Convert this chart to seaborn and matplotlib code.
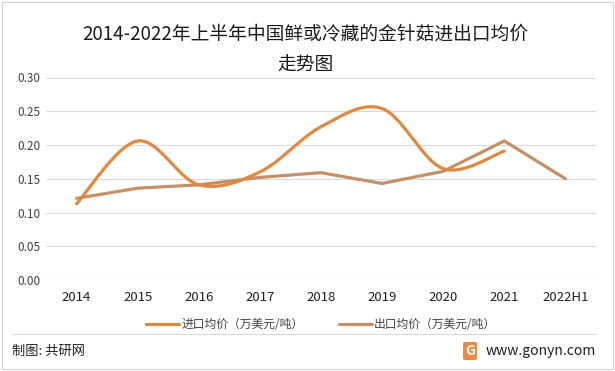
import matplotlib
matplotlib.use("Agg")
import matplotlib.pyplot as plt
import seaborn as sns
import numpy as np
import pandas as pd

years = ["2014", "2015", "2016", "2017", "2018", "2019", "2020", "2021", "2022H1"]
import_price = [0.113, 0.206, 0.141, 0.160, 0.227, 0.254, 0.165, 0.191]
export_price = [0.121, 0.136, 0.141, 0.152, 0.159, 0.143, 0.161, 0.206, 0.150]

import_name = "进口均价（万美元/吨）"
export_name = "出口均价（万美元/吨）"
import_color = "#E0893E"
export_color = "#C49068"

sns.set_theme(style="white")
plt.rcParams["font.family"] = ["Noto Sans CJK SC", "DejaVu Sans"]


def smooth(xs, ys, steps=30):
    # excel style smoothed line: bezier with control points from neighbours
    pts = np.column_stack([xs, ys]).astype(float)
    padded = np.vstack([pts[0], pts, pts[-1]])
    out = []
    for i in range(len(pts) - 1):
        p0, p1, p2, p3 = padded[i], padded[i + 1], padded[i + 2], padded[i + 3]
        c1 = p1 + (p2 - p0) / 6
        c2 = p2 - (p3 - p1) / 6
        t = np.linspace(0, 1, steps)[:, None]
        seg = ((1 - t) ** 3) * p1 + 3 * ((1 - t) ** 2) * t * c1 + 3 * (1 - t) * t ** 2 * c2 + t ** 3 * p2
        out.append(seg if i == 0 else seg[1:])
    return np.vstack(out)


fig = plt.figure(figsize=(6.15, 3.71), dpi=100)
ax = fig.add_axes([46 / 615, 1 - 280 / 371, 550 / 615, 202.5 / 371])

curve = smooth(np.arange(len(import_price)), import_price)
imp_df = pd.DataFrame({"x": curve[:, 0], "y": curve[:, 1]})
exp_df = pd.DataFrame({"x": np.arange(len(export_price)), "y": export_price})

sns.lineplot(data=imp_df, x="x", y="y", ax=ax, color=import_color, lw=2.3,
             sort=False, label=import_name, zorder=3)
sns.lineplot(data=exp_df, x="x", y="y", ax=ax, color=export_color, lw=2.3,
             label=export_name, zorder=2)

ax.set_xlim(-0.5, len(years) - 0.5)
ax.set_ylim(0, 0.30)
ax.set_yticks(np.arange(0, 0.31, 0.05))
ax.set_yticklabels([f"{v:.2f}" for v in np.arange(0, 0.31, 0.05)], fontsize=8.5, color="#404040")
ax.set_xticks(range(len(years)))
ax.set_xticklabels(years, fontsize=9.5, color="#202020")
ax.tick_params(axis="both", length=0, pad=4)
ax.tick_params(axis="x", pad=8)
ax.yaxis.grid(True, color="#d9d9d9", lw=0.8)
ax.set_axisbelow(True)
ax.set_xlabel("")
ax.set_ylabel("")
for s in ax.spines.values():
    s.set_visible(False)
ax.axhline(0, color="#d9d9d9", lw=0.8, zorder=1)

ax.legend(loc="center", bbox_to_anchor=(0.5, (280 - 325) / 202.5), ncol=2, frameon=False,
          fontsize=8.5, handlelength=2.8, columnspacing=3.0, handletextpad=0.2,
          labelcolor="#404040")

fig.text(0.497, 1 - 34 / 371, "2014-2022年上半年中国鲜或冷藏的金针菇进出口均价",
         ha="center", va="center", fontsize=13.5, color="#1a1a1a")
fig.text(0.497, 1 - 65 / 371, "走势图", ha="center", va="center", fontsize=13.5, color="#1a1a1a")

fig.add_artist(plt.Line2D([12 / 615, 596 / 615], [1 - 334 / 371, 1 - 334 / 371],
                          color="#d9d9d9", lw=0.8))
fig.text(12 / 615, 1 - 351 / 371, "制图: 共研网", ha="left", va="center", fontsize=9.5, color="#202020")
fig.text(596 / 615, 1 - 351 / 371, "www.gonyn.com", ha="right", va="center", fontsize=10, color="#202020")
fig.text(470 / 615, 1 - 351 / 371, "G", ha="center", va="center", fontsize=10,
         color="white", weight="bold",
         bbox=dict(boxstyle="round,pad=0.15", fc="#EE8A3C", ec="none"))

fig.add_artist(plt.Rectangle((2 / 615, 2 / 371), 611 / 615, 367 / 371, fill=False,
                             ec="#d0d0d0", lw=0.8, transform=fig.transFigure))

fig.savefig("out.png", dpi=100)
